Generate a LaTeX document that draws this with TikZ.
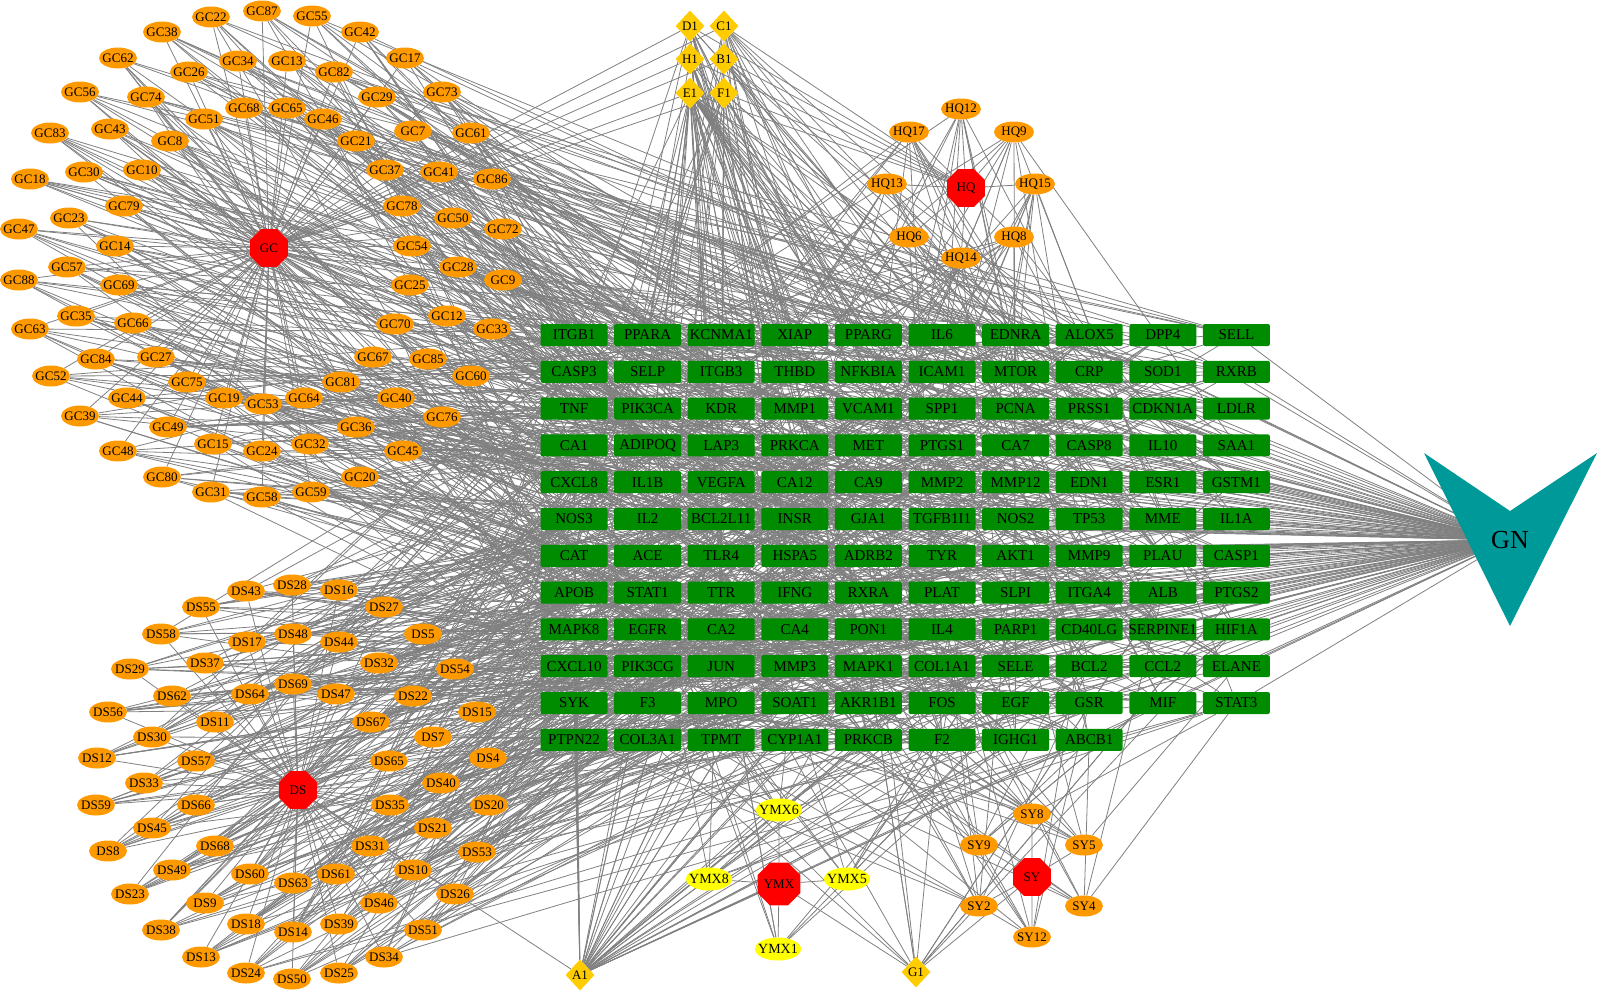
\documentclass[tikz,border=0pt]{standalone}
\usepackage{fontspec}
\setmainfont{Liberation Serif}
\usetikzlibrary{shapes.geometric}
\pgfdeclarelayer{bg}
\pgfsetlayers{bg,main}
\definecolor{cOrange}{RGB}{255,153,0}
\definecolor{cGold}{RGB}{255,204,0}
\definecolor{cYellow}{RGB}{255,255,0}
\definecolor{cGreen}{RGB}{0,140,0}
\definecolor{cTeal}{RGB}{0,153,153}
\definecolor{cRed}{RGB}{255,0,0}
\definecolor{cEdge}{RGB}{128,128,128}
\tikzset{
 lnk/.style={draw=cEdge, line width=0.8pt},
 cpd/.style={ellipse, fill=cOrange, minimum width=38pt, minimum height=21pt, inner sep=0pt, font=\fontsize{13}{13}\selectfont},
 ymxc/.style={cpd, fill=cYellow, minimum width=46pt, minimum height=23pt, font=\fontsize{14}{14}\selectfont},
 herb/.style={regular polygon, regular polygon sides=8, minimum size=41pt, fill=cRed, inner sep=0pt, font=\fontsize{13}{13}\selectfont},
 dia/.style={diamond, fill=cGold, minimum width=29pt, minimum height=31pt, inner sep=0pt, font=\fontsize{13}{13}\selectfont},
 tgt/.style={rectangle, rounded corners=2pt, fill=cGreen, minimum width=67pt, minimum height=22pt, inner sep=0pt, font=\fontsize{15}{15}\selectfont},
}
\def\gcnodes{GC22/211/17, GC87/262/11, GC55/312/16, GC42/360/32, GC38/162/32, GC34/238/61, GC13/287/61, GC17/405/58, GC62/118/58, GC26/189/72, GC82/334/72, GC56/80/92, GC74/146/97, GC29/377/97, GC73/442/92, GC68/244/108, GC65/287/108, GC51/204/119, GC46/323/119, GC83/50/133, GC43/110/129, GC8/170/141, GC21/356/141, GC7/413/131, GC61/471/133, GC30/84/172, GC10/142/170, GC18/30/179, GC37/385/170, GC41/439/172, GC86/492/179, GC79/124/206, GC78/402/206, GC23/69/218, GC50/453/218, GC47/19/229, GC72/503/229, GC14/115/246, GC54/412/246, GC57/67/267, GC88/19/280, GC69/119/285, GC28/458/267, GC25/410/285, GC9/503/280, GC35/76/316, GC63/30/329, GC66/133/323, GC12/447/316, GC70/395/324, GC33/492/329, GC84/96/359, GC27/156/357, GC67/373/357, GC85/428/359, GC52/51/376, GC60/471/376, GC75/187/382, GC81/341/382, GC44/127/398, GC19/224/398, GC53/263/404, GC64/304/398, GC40/396/398, GC39/80/416, GC76/442/417, GC49/168/427, GC36/356/427, GC48/118/451, GC15/213/444, GC24/262/451, GC32/310/444, GC45/403/451, GC80/162/477, GC20/360/477, GC31/211/492, GC58/262/497, GC59/311/492}
\def\dsnodes{DS43/246/591, DS28/292/585, DS16/339/590, DS55/201/607, DS27/384/607, DS58/161/634, DS17/247/642, DS48/293/634, DS44/339/642, DS5/423/634, DS29/130/669, DS37/205/663, DS32/379/663, DS54/455/669, DS62/172/696, DS64/250/694, DS69/293/684, DS47/336/694, DS22/413/696, DS56/108/712, DS11/215/722, DS67/371/722, DS15/477/712, DS30/152/737, DS7/433/737, DS12/97/758, DS57/196/761, DS65/389/761, DS4/488/758, DS33/144/783, DS40/441/783, DS59/96/805, DS66/196/805, DS35/390/805, DS20/489/805, DS45/152/828, DS21/433/828, DS8/108/851, DS68/215/846, DS31/370/846, DS53/477/852, DS49/172/870, DS60/250/874, DS63/293/883, DS61/336/874, DS10/413/870, DS23/130/894, DS26/455/894, DS9/205/903, DS46/379/903, DS38/161/930, DS18/246/924, DS14/293/932, DS39/339/924, DS51/423/930, DS13/201/957, DS34/384/957, DS24/246/973, DS50/292/979, DS25/339/973}
\def\hqnodes{HQ12/961/109, HQ17/909/132, HQ9/1014/132, HQ13/887/184, HQ15/1035/184, HQ6/909/237, HQ8/1014/237, HQ14/961/258}
\def\ymxnodes{YMX6/779/810, YMX8/709/879, YMX5/847/879, YMX1/778/949}
\def\synodes{SY8/1032/814, SY9/979/845, SY5/1084/845, SY2/979/906, SY4/1084/906, SY12/1032/937}
\def\tgtlist{ITGB1,PPARA,KCNMA1,XIAP,PPARG,IL6,EDNRA,ALOX5,DPP4,SELL,
CASP3,SELP,ITGB3,THBD,NFKBIA,ICAM1,MTOR,CRP,SOD1,RXRB,
TNF,PIK3CA,KDR,MMP1,VCAM1,SPP1,PCNA,PRSS1,CDKN1A,LDLR,
CA1,ADIPOQ,LAP3,PRKCA,MET,PTGS1,CA7,CASP8,IL10,SAA1,
CXCL8,IL1B,VEGFA,CA12,CA9,MMP2,MMP12,EDN1,ESR1,GSTM1,
NOS3,IL2,BCL2L11,INSR,GJA1,TGFB1I1,NOS2,TP53,MME,IL1A,
CAT,ACE,TLR4,HSPA5,ADRB2,TYR,AKT1,MMP9,PLAU,CASP1,
APOB,STAT1,TTR,IFNG,RXRA,PLAT,SLPI,ITGA4,ALB,PTGS2,
MAPK8,EGFR,CA2,CA4,PON1,IL4,PARP1,CD40LG,SERPINE1,HIF1A,
CXCL10,PIK3CG,JUN,MMP3,MAPK1,COL1A1,SELE,BCL2,CCL2,ELANE,
SYK,F3,MPO,SOAT1,AKR1B1,FOS,EGF,GSR,MIF,STAT3,
PTPN22,COL3A1,TPMT,CYP1A1,PRKCB,F2,IGHG1,ABCB1}
\begin{document}
\begin{tikzpicture}[x=1pt,y=-1pt]
\useasboundingbox (0,0) rectangle (1598,991);
% targets
\foreach [count=\i] \lab in \tgtlist {
  \pgfmathtruncatemacro\rr{(\i-1)/10}
  \pgfmathsetmacro\tx{574+73.6*(\i-1-10*\rr)}
  \pgfmathsetmacro\ty{335+36.8*\rr}
  \node[tgt] (t\i) at (\tx,\ty) {\makebox[0pt]{\lab}};
}
% compounds
\foreach \nm/\x/\y in \gcnodes {\node[cpd] (\nm) at (\x,\y) {\makebox[0pt]{\nm}};}
\foreach \nm/\x/\y in \dsnodes {\node[cpd] (\nm) at (\x,\y) {\makebox[0pt]{\nm}};}
\foreach \nm/\x/\y in \hqnodes {\node[cpd, minimum width=40pt] (\nm) at (\x,\y) {\makebox[0pt]{\nm}};}
\foreach \nm/\x/\y in \synodes {\node[cpd] (\nm) at (\x,\y) {\makebox[0pt]{\nm}};}
\foreach \nm/\x/\y in \ymxnodes {\node[ymxc] (\nm) at (\x,\y) {\makebox[0pt]{\nm}};}
% herbs
\node[herb] (GC) at (269,248) {GC};
\node[herb] (DS) at (298,790) {DS};
\node[herb] (HQ) at (966,188) {HQ};
\node[herb] (YMX) at (779,884) {YMX};
\node[herb] (SY) at (1032,877) {SY};
% common compounds
\node[dia] (D1) at (690,26) {\makebox[0pt]{D1}};
\node[dia] (C1) at (724,26) {\makebox[0pt]{C1}};
\node[dia] (H1) at (690,59) {\makebox[0pt]{H1}};
\node[dia] (B1) at (724,59) {\makebox[0pt]{B1}};
\node[dia] (E1) at (690,93) {\makebox[0pt]{E1}};
\node[dia] (F1) at (724,93) {\makebox[0pt]{F1}};
\node[dia] (A1) at (580,975) {\makebox[0pt]{A1}};
\node[dia] (G1) at (916,972) {\makebox[0pt]{G1}};
% disease node
\fill[cTeal] (1424,453) -- (1510,511) -- (1597,453) -- (1510,626) -- cycle;
\node[inner sep=0pt, font=\fontsize{26}{26}\selectfont] (GN) at (1510,540) {GN};
% edges
\begin{pgfonlayer}{bg}
\pgfmathsetseed{2024}
\foreach \nm/\x/\y in \gcnodes {\draw[lnk] (GC) -- (\nm);}
\foreach \nm/\x/\y in \dsnodes {\draw[lnk] (DS) -- (\nm);}
\foreach \nm/\x/\y in \hqnodes {\draw[lnk] (HQ) -- (\nm);}
\foreach \nm/\x/\y in \ymxnodes {\draw[lnk] (YMX) -- (\nm);}
\foreach \nm/\x/\y in \synodes {\draw[lnk] (SY) -- (\nm);}
\foreach \d in {D1,C1,H1,B1,E1,F1} {\draw[lnk] (\d) -- (GC); \draw[lnk] (\d) -- (HQ);}
\draw[lnk] (A1) -- (DS); \draw[lnk] (A1) -- (YMX);
\draw[lnk] (G1) -- (YMX); \draw[lnk] (G1) -- (SY);
\foreach \nm/\x/\y in \gcnodes {\foreach \k in {1,...,6} {\pgfmathrandominteger{\rt}{1}{118}\draw[lnk] (\nm) -- (t\rt);}}
\foreach \nm/\x/\y in \dsnodes {\foreach \k in {1,...,7} {\pgfmathrandominteger{\rt}{1}{118}\draw[lnk] (\nm) -- (t\rt);}}
\foreach \nm/\x/\y in \hqnodes {\foreach \k in {1,...,10} {\pgfmathrandominteger{\rt}{1}{118}\draw[lnk] (\nm) -- (t\rt);}}
\foreach \nm/\x/\y in \ymxnodes {\foreach \k in {1,...,7} {\pgfmathrandominteger{\rt}{51}{118}\draw[lnk] (\nm) -- (t\rt);}}
\foreach \nm/\x/\y in \synodes {\foreach \k in {1,...,8} {\pgfmathrandominteger{\rt}{51}{118}\draw[lnk] (\nm) -- (t\rt);}}
\foreach \d/\n in {E1/40,D1/14,C1/14,H1/10,B1/10,F1/12} {\foreach \k in {1,...,\n} {\pgfmathrandominteger{\rt}{1}{118}\draw[lnk] (\d) -- (t\rt);}}
\foreach \k in {1,...,40} {\pgfmathrandominteger{\rt}{31}{118}\draw[lnk] (A1) -- (t\rt);}
\foreach \k in {1,...,12} {\pgfmathrandominteger{\rt}{61}{118}\draw[lnk] (G1) -- (t\rt);}
\foreach \i in {1,...,118} {\draw[lnk] (t\i) -- (GN);}
\end{pgfonlayer}
\end{tikzpicture}
\end{document}
